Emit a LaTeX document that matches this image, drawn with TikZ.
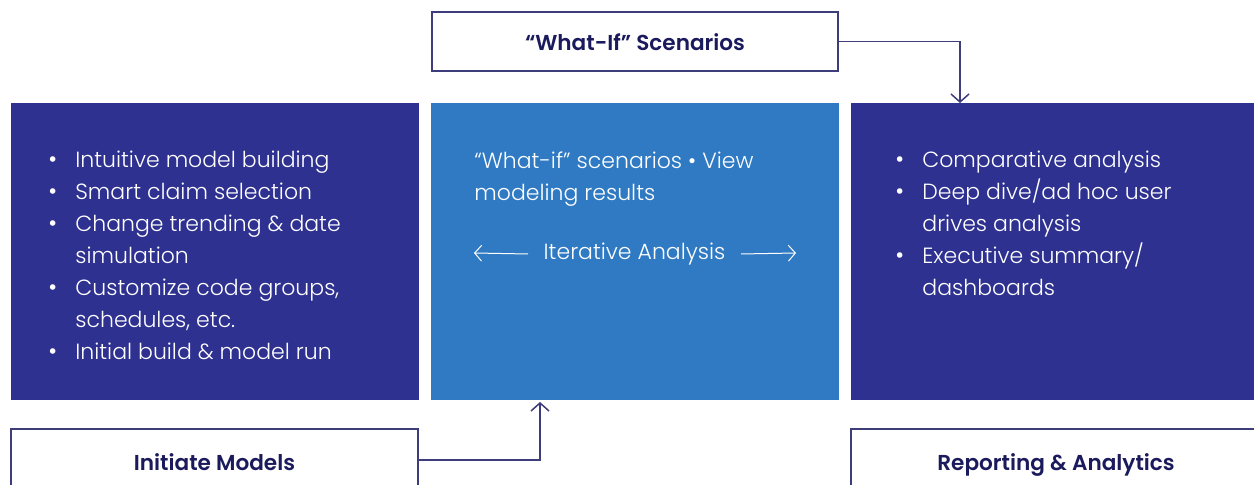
\documentclass[tikz,border=0pt]{standalone}
\usepackage{fontspec}
\setmainfont{Poppins}[UprightFont=* Light,BoldFont=* SemiBold]
\usetikzlibrary{arrows.meta}

\definecolor{navy}{RGB}{46,49,144}
\definecolor{midblue}{RGB}{47,122,195}
\definecolor{ink}{RGB}{26,26,92}
\definecolor{edge}{RGB}{62,60,122}
\newcommand{\bul}{\makebox[13.5pt][l]{\large\textbullet}}
\newcommand{\ind}{\hspace*{13.5pt}}

\begin{document}
\begin{tikzpicture}[x=0.5pt,y=-0.5pt,
  panel/.style={anchor=north west,inner sep=0pt,outer sep=0pt},
  tab/.style={panel,draw=edge,line width=0.7pt,fill=white,text=ink,
    text height=9.5pt,text depth=0.5pt,font=\fontsize{10.8}{14}\selectfont\bfseries},
  lst/.style={anchor=north west,inner sep=0pt,text=white,align=left,
    font=\fontsize{11}{16}\selectfont},
  flow/.style={draw=edge,line width=0.75pt,-{Straight Barb[length=4pt,width=9pt]}},
  loop/.style={draw=white,line width=0.5pt,-{Straight Barb[length=3.5pt,width=8pt]}}]
  \useasboundingbox (0,0) rectangle (1254,485);
  % top tab and the three panels
  \node (whatif) [tab,minimum width=203pt,minimum height=29.5pt] at (432,12) {“What-If” Scenarios};
  \node (build) [panel,fill=navy,minimum width=204pt,minimum height=148.5pt] at (11,103) {};
  \node (iterate) [panel,fill=midblue,minimum width=204pt,minimum height=148.5pt] at (431,103) {};
  \node (report) [panel,fill=navy,minimum width=205pt,minimum height=148.5pt] at (851,103) {};
  % bottom tabs, cut by the page edge
  \node (initiate) [tab,minimum width=203.5pt,minimum height=33pt] at (11,429) {Initiate Models};
  \node (analytics) [tab,minimum width=205pt,minimum height=33pt] at (851,429) {Reporting \& Analytics};
  % panel texts
  \node (buildtxt) [lst] at (48,151) {\bul Intuitive model building\\ \bul Smart claim selection\\
    \bul Change trending \& date\\ \ind simulation\\ \bul Customize code groups,\\
    \ind schedules, etc.\\ \bul Initial build \& model run};
  \node (iteratetxt) [lst] at (474,151) {“What-if” scenarios • View\\ modeling results};
  \node (reporttxt) [lst] at (895,151) {\bul Comparative analysis\\ \bul Deep dive/ad hoc user\\
    \ind drives analysis\\ \bul Executive summary/\\ \ind dashboards};
  \node (iter) [text=white,inner sep=0pt,font=\fontsize{11}{14}\selectfont] at (634.5,254) {Iterative Analysis};
  \coordinate (iterL) at (474,253);
  \coordinate (iterR) at (796,253);
  \draw[loop] (iter.west -| 528,0) -- (iterL);
  \draw[loop] (iter.east -| 741,0) -- (iterR);
  % connectors
  \draw[flow] (whatif.east) -| ([xshift=54.5pt]report.north west);
  \draw[flow] (initiate.east |- 0,460) -| ([xshift=54.5pt,yshift=-1pt]iterate.south west);
\end{tikzpicture}
\end{document}
